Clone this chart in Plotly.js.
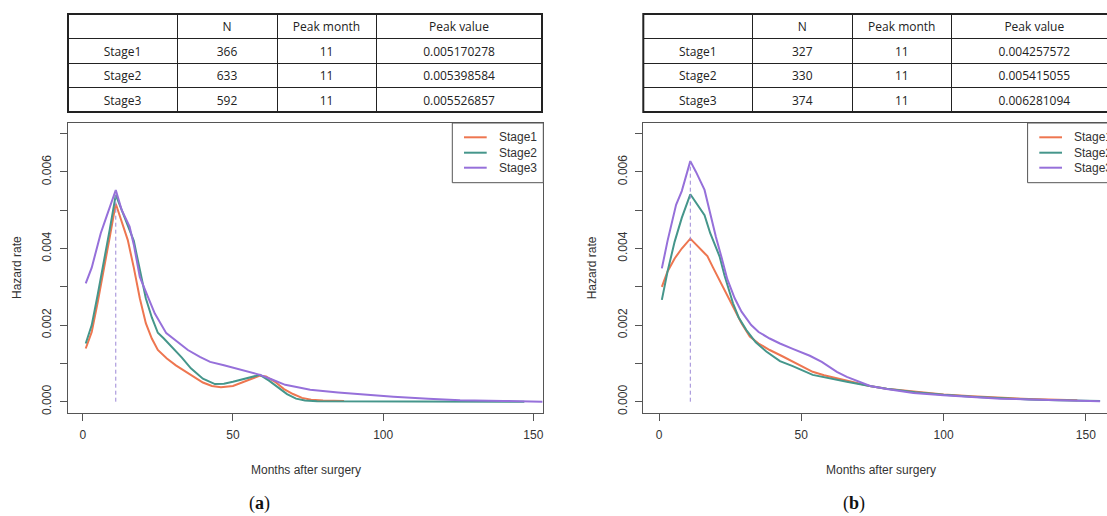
<!DOCTYPE html>
<html>
<head>
<meta charset="utf-8">
<script src="https://cdn.plot.ly/plotly-3.0.1.min.js"></script>
<style>
html, body { margin: 0; padding: 0; overflow: hidden; background: #fff; }
#chart { width: 1125px; height: 516px; }
</style>
</head>
<body>
<div id="chart"></div>
<script>
// ---------- data ----------
const tableHeader = ['', 'N', 'Peak month', 'Peak value'];
const stageNames = ['Stage1', 'Stage2', 'Stage3'];
const stageColors = ['#EE7650', '#45968B', '#9670DA'];

// panel (a) table
const aN = [366, 633, 592];
const aPeakMonth = [11, 11, 11];
const aPeakValue = [0.005170278, 0.005398584, 0.005526857];
// panel (b) table
const bN = [327, 330, 374];
const bPeakMonth = [11, 11, 11];
const bPeakValue = [0.004257572, 0.005415055, 0.006281094];

// panel (a) hazard curves
const aMonthsS1 = [1, 3, 5, 7, 9, 11, 13, 15, 17, 19, 21, 23, 25, 28, 31, 34, 37, 40, 43, 46, 50, 53, 56, 59, 61, 64, 67, 70, 73, 76, 80, 87];
const aHazardS1 = [0.00139, 0.00182, 0.0026, 0.0034, 0.0043, 0.005170278, 0.0047, 0.00422, 0.0035, 0.0027, 0.00205, 0.00165, 0.00135, 0.00113, 0.00095, 0.0008, 0.00063, 0.0005, 0.00041, 0.00038, 0.00041, 0.0005, 0.00061, 0.00068, 0.00066, 0.00052, 0.00033, 0.0002, 0.0001, 0.00005, 0.00003, 0.00002];
const aMonthsS2 = [1, 3, 5, 7, 9, 11, 13, 15, 17, 19, 21, 23, 25, 27, 30, 33, 36, 40, 44, 47, 50, 53, 56, 59, 62, 65, 68, 71, 74, 78, 90, 110, 130, 147];
const aHazardS2 = [0.00152, 0.002, 0.0028, 0.0036, 0.0045, 0.005398584, 0.005, 0.0046, 0.0042, 0.00345, 0.0027, 0.0022, 0.0018, 0.00165, 0.0014, 0.00115, 0.00087, 0.0006, 0.00046, 0.00047, 0.00052, 0.00058, 0.00065, 0.0007, 0.00055, 0.00038, 0.0002, 0.00008, 0.00003, 0.00001, 0.000005, 0.000003, 0.000002, 0.0];
const aMonthsS3 = [1, 3, 5, 6, 8, 11, 13, 15.6, 17, 19, 21.7, 24, 27.8, 31, 35, 39, 42.4, 47, 52, 59, 63, 67.4, 72, 75.7, 85, 95, 103.4, 115, 125.6, 140, 153];
const aHazardS3 = [0.00309, 0.0035, 0.0041, 0.0044, 0.00485, 0.005526857, 0.005, 0.00457, 0.0041, 0.00326, 0.00274, 0.0023, 0.00179, 0.0016, 0.00135, 0.00117, 0.00104, 0.00095, 0.00085, 0.0007, 0.00058, 0.00044, 0.00037, 0.00031, 0.00024, 0.00018, 0.00013, 0.00008, 0.00004, 0.00002, 0.0];

// panel (b) hazard curves
const bMonthsS1 = [1, 3, 5.5, 8, 11, 13, 15, 17, 19, 21, 22.5, 25, 27.2, 29, 31.9, 35, 38.9, 43, 47, 51, 54, 58, 62.5, 67, 74, 80, 90, 100, 110, 120, 130, 140, 147];
const bHazardS1 = [0.003, 0.0034, 0.00374, 0.004, 0.004257572, 0.0041, 0.00395, 0.0038, 0.0035, 0.0032, 0.003, 0.00263, 0.00231, 0.00205, 0.0017, 0.00152, 0.00135, 0.0012, 0.00104, 0.0009, 0.00078, 0.00069, 0.00061, 0.00052, 0.00041, 0.00034, 0.00026, 0.00019, 0.00014, 0.0001, 0.00007, 0.00005, 0.00004];
const bMonthsS2 = [1, 3, 5.5, 8, 11, 13, 16, 18, 21.3, 23, 26, 28, 30.7, 34, 37.7, 42.5, 47, 54, 60, 66, 74, 80, 90, 100, 110, 120, 130, 140, 150, 155];
const bHazardS2 = [0.00266, 0.0034, 0.00418, 0.0048, 0.005415055, 0.0052, 0.00487, 0.0044, 0.00379, 0.0033, 0.00257, 0.0022, 0.00187, 0.00155, 0.00131, 0.00106, 0.00093, 0.0007, 0.0006, 0.00052, 0.00041, 0.00034, 0.00025, 0.00018, 0.00013, 0.00009, 0.00006, 0.00004, 0.00003, 0.00002];
const bMonthsS3 = [1, 3, 6, 8, 11, 13, 16, 18, 20, 21.9, 24, 26.6, 29, 32.4, 35, 38.9, 42.5, 47, 49.6, 53, 57.2, 60, 62.5, 66, 69.5, 74.2, 80, 89.4, 100, 110, 120, 130, 140, 150, 155];
const bHazardS3 = [0.00348, 0.0042, 0.00514, 0.0055, 0.006281094, 0.006, 0.00553, 0.0049, 0.0043, 0.00379, 0.0032, 0.0027, 0.00235, 0.002, 0.00182, 0.00165, 0.00152, 0.00138, 0.00131, 0.0012, 0.00104, 0.0009, 0.00078, 0.00065, 0.00054, 0.00041, 0.00033, 0.00023, 0.00017, 0.00012, 0.00008, 0.00006, 0.00004, 0.00002, 0.00001];

const xTickVals = [0, 50, 100, 150];
const yTickVals = [0, 0.001, 0.002, 0.003, 0.004, 0.005, 0.006, 0.007];
const yTickText = ['0.000', '', '0.002', '', '0.004', '', '0.006', ''];
const peakMonth = 11;

// ---------- layout helpers ----------
const W = 1125, H = 516;
const px = v => v / W;
const py = v => 1 - v / H;
const chartFont = 'Liberation Sans, Arial, sans-serif';
const textColor = '#333';
const frameColor = '#555';

const panels = [
  { key: 'a', left: 68, xr: [-4.9, 153.2], N: aN, pm: aPeakMonth, pv: aPeakValue,
    months: [aMonthsS1, aMonthsS2, aMonthsS3], hazard: [aHazardS1, aHazardS2, aHazardS3], label: '(<b>a</b>)', labelX: 259 },
  { key: 'b', left: 643.3, xr: [-5.52, 161.4], N: bN, pm: bPeakMonth, pv: bPeakValue,
    months: [bMonthsS1, bMonthsS2, bMonthsS3], hazard: [bHazardS1, bHazardS2, bHazardS3], label: '(<b>b</b>)', labelX: 854 }
];
const plotW = 475, plotTop = 123, plotBottom = 413;
const tableTop = 14, tableBottom = 112, tableW = 474;

const traces = [];
const shapes = [];
const annotations = [];
const layout = {
  width: W, height: H,
  margin: { l: 0, r: 0, t: 0, b: 0 },
  paper_bgcolor: '#fff', plot_bgcolor: '#fff',
  showlegend: false,
  font: { family: chartFont, color: textColor, size: 12 }
};

panels.forEach((p, i) => {
  const xa = i === 0 ? 'x' : 'x2';
  const ya = i === 0 ? 'y' : 'y2';
  const xName = i === 0 ? 'xaxis' : 'xaxis2';
  const yName = i === 0 ? 'yaxis' : 'yaxis2';

  // table
  traces.push({
    type: 'table',
    domain: { x: [px(p.left), px(p.left + tableW)], y: [py(tableBottom), py(tableTop)] },
    columnwidth: [109, 100, 99, 166],
    header: {
      values: tableHeader,
      align: 'center', height: 24.5,
      line: { color: '#222', width: 1 },
      fill: { color: '#fff' },
      font: { family: 'Open Sans, sans-serif', size: 12, color: '#222' }
    },
    cells: {
      values: [stageNames, p.N, p.pm, p.pv],
      format: ['', '', '', '.9f'],
      align: 'center', height: 24.5,
      line: { color: '#222', width: 1 },
      fill: { color: '#fff' },
      font: { family: 'Open Sans, sans-serif', size: 12, color: '#222' }
    }
  });
  shapes.push({ type: 'rect', xref: 'paper', yref: 'paper',
    x0: px(p.left), x1: px(p.left + tableW), y0: py(tableBottom), y1: py(tableTop),
    line: { color: '#222', width: 2 }, fillcolor: 'rgba(0,0,0,0)' });

  // curves
  for (let s = 0; s < 3; s++) {
    traces.push({
      type: 'scatter', mode: 'lines', name: stageNames[s],
      x: p.months[s], y: p.hazard[s], xaxis: xa, yaxis: ya,
      line: { color: stageColors[s], width: 2 }, hoverinfo: 'x+y'
    });
  }
  // dashed peak marker
  traces.push({
    type: 'scatter', mode: 'lines', x: [peakMonth, peakMonth], y: [0, Math.max(...p.pv)],
    xaxis: xa, yaxis: ya, line: { color: '#9C88D6', width: 1, dash: '4px,3px' }, hoverinfo: 'skip'
  });

  layout[xName] = {
    domain: [px(p.left), px(p.left + plotW)], range: p.xr, anchor: ya,
    showline: true, mirror: true, linecolor: frameColor, linewidth: 1,
    ticks: 'outside', ticklen: 7, tickcolor: frameColor, tickwidth: 1,
    tickvals: xTickVals, showgrid: false, zeroline: false, automargin: false,
    ticklabelstandoff: 4,
    tickfont: { family: chartFont, size: 12, color: textColor }
  };
  layout[yName] = {
    domain: [py(plotBottom), py(plotTop)], range: [-0.000295, 0.007277], anchor: xa,
    showline: true, mirror: true, linecolor: frameColor, linewidth: 1,
    ticks: 'outside', ticklen: 7, tickcolor: frameColor, tickwidth: 1,
    tickvals: yTickVals, ticktext: yTickText, tickangle: -90,
    showgrid: false, zeroline: false, automargin: false,
    ticklabelstandoff: 4,
    tickfont: { family: chartFont, size: 12, color: textColor }
  };

  // axis titles
  annotations.push({ xref: 'paper', yref: 'paper', x: px(p.left - 51), y: py((plotTop + plotBottom) / 2),
    text: 'Hazard rate', textangle: -90, showarrow: false, xanchor: 'center', yanchor: 'middle',
    font: { family: chartFont, size: 12, color: textColor } });
  annotations.push({ xref: 'paper', yref: 'paper', x: px(p.left + plotW / 2), y: py(470),
    text: 'Months after surgery', showarrow: false, xanchor: 'center', yanchor: 'middle',
    font: { family: chartFont, size: 12, color: textColor } });
  // panel label
  annotations.push({ xref: 'paper', yref: 'paper', x: px(p.labelX), y: py(503),
    text: p.label, showarrow: false, xanchor: 'center', yanchor: 'middle',
    font: { family: 'Liberation Serif, DejaVu Serif, serif', size: 18, color: '#111' } });

  // legend box (drawn manually, R style)
  const lx = p.left + 384.3;
  shapes.push({ type: 'rect', xref: 'paper', yref: 'paper',
    x0: px(lx), x1: px(lx + 91), y0: py(182.7), y1: py(plotTop),
    line: { color: frameColor, width: 1 }, fillcolor: '#fff' });
  const rowsY = [137.3, 152.7, 167.7];
  for (let s = 0; s < 3; s++) {
    shapes.push({ type: 'line', xref: 'paper', yref: 'paper',
      x0: px(lx + 11.7), x1: px(lx + 34.4), y0: py(rowsY[s]), y1: py(rowsY[s]),
      line: { color: stageColors[s], width: 2 } });
    annotations.push({ xref: 'paper', yref: 'paper', x: px(lx + 44.4), y: py(rowsY[s]),
      text: stageNames[s], showarrow: false, xanchor: 'left', yanchor: 'middle',
      font: { family: chartFont, size: 12, color: textColor } });
  }
});

layout.shapes = shapes;
layout.annotations = annotations;

Plotly.newPlot('chart', traces, layout, { staticPlot: true, displayModeBar: false });
</script>
</body>
</html>
